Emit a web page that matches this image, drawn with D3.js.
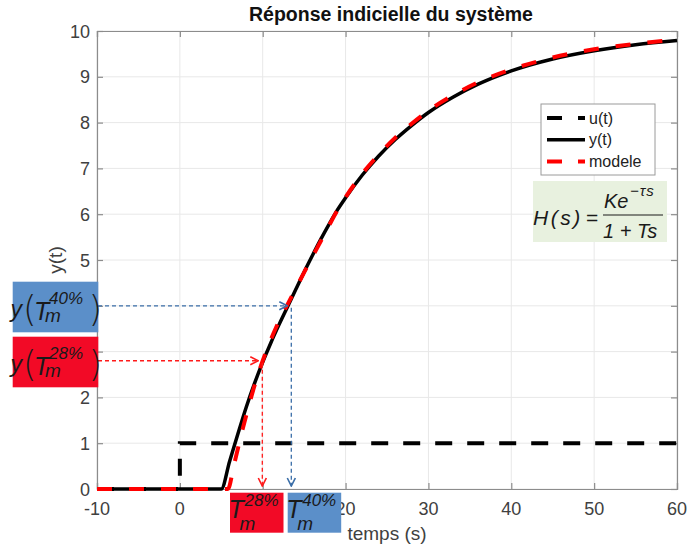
<!DOCTYPE html>
<html>
<head>
<meta charset="utf-8">
<script src="https://cdn.jsdelivr.net/npm/d3@7"></script>
<style>
body { margin: 0; background: #fff; }
text { font-family: "Liberation Sans", Arial, sans-serif; }
</style>
</head>
<body>
<svg id="chart" width="688" height="546"></svg>
<script>
"use strict"

// values
const timeY = [-10, 5, 6, 7, 8, 9, 10, 11, 12, 13, 14, 15, 16, 17, 18, 19, 20, 22, 24, 26, 28, 30, 33, 36, 40, 45, 50, 55, 60]
const valY  = [0, 0, 0.6, 1.2, 1.78, 2.3, 2.77, 3.2, 3.6, 3.98, 4.36, 4.74, 5.1, 5.45, 5.78, 6.09, 6.36, 6.85, 7.27, 7.63, 7.94, 8.22, 8.56, 8.84, 9.13, 9.39, 9.57, 9.7, 9.79]
const timeModel = [-10, 5.8, 6.5, 7, 7.5, 8, 9, 10, 11, 12, 13, 14, 15, 16, 17, 18, 19, 20, 22, 24, 26, 28, 30, 33, 36, 40, 45, 50, 55, 60]
const valModel  = [0, 0, 0.5, 0.88, 1.25, 1.6, 2.25, 2.8, 3.27, 3.68, 4.03, 4.38, 4.73, 5.07, 5.41, 5.75, 6.08, 6.37, 6.88, 7.3, 7.67, 7.98, 8.26, 8.6, 8.88, 9.16, 9.42, 9.6, 9.72, 9.81]
const timeU = [-10, 0, 0, 60]
const valU  = [0, 0, 1, 1]

const xTicks = [-10, 0, 10, 20, 30, 40, 50, 60]
const yTicks = [0, 1, 2, 3, 4, 5, 6, 7, 8, 9, 10]

const markPct = ["28%", "40%"]
const markT = [9.95, 13.45]
const markY = [2.8, 4.0]

const legendNames = ["u(t)", "y(t)", "modele"]

const redBox = "#f20a26", blueBox = "#5b8fc9"
const redArrow = "#ff1a1a", blueArrow = "#3a6ea8"

const svg = d3.select("#chart")
const x = d3.scaleLinear().domain([-10, 60]).range([97, 677])
const y = d3.scaleLinear().domain([0, 10]).range([489, 31])

svg.append("rect").attr("width", 688).attr("height", 546).attr("fill", "#fff")

// grid
const grid = svg.append("g")
grid.selectAll(".gx").data(xTicks).enter().append("line")
    .attr("x1", d => x(d)).attr("x2", d => x(d))
    .attr("y1", y(0)).attr("y2", y(10))
    .attr("stroke", "#e8e8e8").attr("stroke-width", 1)
grid.selectAll(".gy").data(yTicks).enter().append("line")
    .attr("x1", x(-10)).attr("x2", x(60))
    .attr("y1", d => y(d)).attr("y2", d => y(d))
    .attr("stroke", "#e8e8e8").attr("stroke-width", 1)

// frame + inward ticks
const axisColor = "#8c8c8c"
svg.append("g").attr("transform", "translate(0," + y(0) + ")")
    .call(d3.axisBottom(x).tickValues(xTicks).tickSize(-6).tickFormat(""))
svg.append("g").attr("transform", "translate(0," + y(10) + ")")
    .call(d3.axisTop(x).tickValues(xTicks).tickSize(-6).tickFormat(""))
svg.append("g").attr("transform", "translate(" + x(-10) + ",0)")
    .call(d3.axisLeft(y).tickValues(yTicks).tickSize(-6).tickFormat(""))
svg.append("g").attr("transform", "translate(" + x(60) + ",0)")
    .call(d3.axisRight(y).tickValues(yTicks).tickSize(-6).tickFormat(""))
svg.selectAll(".domain, .tick line").attr("stroke", axisColor).attr("stroke-width", 1.2)

// tick labels
svg.selectAll(".xl").data(xTicks).enter().append("text")
    .attr("x", d => x(d)).attr("y", 515)
    .attr("text-anchor", "middle")
    .style("font-size", "18px").attr("fill", "#404040")
    .text(d => d)
svg.selectAll(".yl").data(yTicks).enter().append("text")
    .attr("x", 90).attr("y", d => y(d) + 6.5)
    .attr("text-anchor", "end")
    .style("font-size", "18px").attr("fill", "#404040")
    .text(d => d)

svg.append("text").attr("x", 387).attr("y", 540)
    .attr("text-anchor", "middle").style("font-size", "19px").attr("fill", "#404040")
    .text("temps (s)")
svg.append("text").attr("transform", "translate(62,260) rotate(-90)")
    .attr("text-anchor", "middle").style("font-size", "19px").attr("fill", "#404040")
    .text("y(t)")
svg.append("text").attr("x", 391).attr("y", 21)
    .attr("text-anchor", "middle").style("font-size", "19.5px").style("font-weight", "bold")
    .attr("fill", "#111").text("Réponse indicielle du système")

// curves
const line = d3.line().x(d => x(d[0])).y(d => y(d[1]))
const smooth = d3.line().x(d => x(d[0])).y(d => y(d[1])).curve(d3.curveMonotoneX)

svg.append("path").datum(d3.zip(timeU, valU))
    .attr("d", line).attr("fill", "none")
    .attr("stroke", "#000").attr("stroke-width", 4).attr("stroke-dasharray", "17,15")
svg.append("path").datum(d3.zip(timeY, valY))
    .attr("d", smooth).attr("fill", "none")
    .attr("stroke", "#000").attr("stroke-width", 3.5)
svg.append("path").datum(d3.zip(timeModel, valModel))
    .attr("d", smooth).attr("fill", "none")
    .attr("stroke", "#ff0000").attr("stroke-width", 4).attr("stroke-dasharray", "15,17")

// legend
const leg = svg.append("g")
leg.append("rect").attr("x", 541).attr("y", 104).attr("width", 114).attr("height", 71)
    .attr("fill", "#fff").attr("stroke", "#9a9a9a").attr("stroke-width", 1)
const legStyle = [
    { color: "#000", dash: "15,16", w: 4 },
    { color: "#000", dash: null, w: 3.5 },
    { color: "#ff0000", dash: "15,16", w: 4 }
]
legendNames.forEach((name, i) => {
    const ly = 118 + i * 21.7
    leg.append("line").attr("x1", 547).attr("x2", 585).attr("y1", ly).attr("y2", ly)
        .attr("stroke", legStyle[i].color).attr("stroke-width", legStyle[i].w)
        .attr("stroke-dasharray", legStyle[i].dash)
    leg.append("text").attr("x", 589).attr("y", ly + 5.5)
        .style("font-size", "16px").attr("fill", "#222").text(name)
})

// transfer function box
const tf = svg.append("g").attr("fill", "#1a1a1a")
tf.append("rect").attr("x", 533).attr("y", 181).attr("width", 134).attr("height", 61).attr("fill", "#e8f1df")
tf.append("text").attr("x", 533).attr("y", 225).style("font-size", "21px").style("font-style", "italic")
    .style("letter-spacing", "2.5px").text("H(s)")
tf.append("text").attr("x", 586).attr("y", 225).style("font-size", "21px").text("=")
tf.append("text").attr("x", 604).attr("y", 208).style("font-size", "20px").style("font-style", "italic").text("Ke")
tf.append("text").attr("x", 630).attr("y", 196).style("font-size", "15px").style("font-style", "italic")
    .style("letter-spacing", "1px").text("−τs")
tf.append("line").attr("x1", 603).attr("x2", 663).attr("y1", 215).attr("y2", 215)
    .attr("stroke", "#1a1a1a").attr("stroke-width", 1.2)
tf.append("text").attr("x", 603).attr("y", 238).style("font-size", "20px").style("font-style", "italic").text("1 + Ts")

// arrow markers
const defs = svg.append("defs")
;[["arrRed", redArrow], ["arrBlue", blueArrow]].forEach(([id, c]) => {
    defs.append("marker").attr("id", id)
        .attr("viewBox", "0 0 10 10").attr("refX", 9).attr("refY", 5)
        .attr("markerWidth", 10).attr("markerHeight", 10)
        .attr("markerUnits", "userSpaceOnUse").attr("orient", "auto")
        .append("path").attr("d", "M1,1 L9,5 L1,9")
        .attr("fill", "none").attr("stroke", c).attr("stroke-width", 1.6)
})

const arrows = svg.append("g")
markT.forEach((t, i) => {
    const c = i === 0 ? redArrow : blueArrow
    const id = i === 0 ? "arrRed" : "arrBlue"
    arrows.append("line")
        .attr("x1", 98).attr("x2", x(t) - 4)
        .attr("y1", y(markY[i])).attr("y2", y(markY[i]))
        .attr("stroke", c).attr("stroke-width", 1.3).attr("stroke-dasharray", "4,3")
        .attr("marker-end", "url(#" + id + ")")
    arrows.append("line")
        .attr("x1", x(t)).attr("x2", x(t))
        .attr("y1", y(markY[i]) + 2).attr("y2", y(0) - 3)
        .attr("stroke", c).attr("stroke-width", 1.3).attr("stroke-dasharray", "4,3")
        .attr("marker-end", "url(#" + id + ")")
})

// T_m labels
function tmLabel(g, x0, base, pct, supDx, supDy, subDy) {
    g.append("text").attr("x", x0).attr("y", base)
        .style("font-size", "25px").style("font-style", "italic").text("T")
    g.append("text").attr("x", x0 + supDx).attr("y", base + supDy)
        .style("font-size", "17px").style("font-style", "italic").text(pct)
    g.append("text").attr("x", x0 + 11).attr("y", base + subDy)
        .style("font-size", "19px").style("font-style", "italic").text("m")
}

const boxes = svg.append("g").attr("fill", "#1a1a1a")
markPct.forEach((pct, i) => {
    const col = i === 0 ? redBox : blueBox
    // left y(T) boxes
    const by = i === 0 ? 336.7 : 281.7
    boxes.append("rect").attr("x", 12.7).attr("y", by).attr("width", 85.6).attr("height", 50.6).attr("fill", col)
    boxes.append("text").attr("x", 10.5).attr("y", by + 35)
        .style("font-size", "23px").style("font-style", "italic").text("y")
    boxes.append("text").attr("x", 23).attr("y", by + 39)
        .style("font-family", "'DejaVu Sans'").style("font-weight", 200)
        .style("font-size", "35px").text("(")
    boxes.append("text").attr("x", 88.5).attr("y", by + 39)
        .style("font-family", "'DejaVu Sans'").style("font-weight", 200)
        .style("font-size", "35px").text(")")
    tmLabel(boxes, 34, by + 38, pct, 15, -16, 2)

    // bottom T boxes
    const bx = i === 0 ? 230 : 287.7
    boxes.append("rect").attr("x", bx).attr("y", 492.7).attr("width", 53.5).attr("height", 40).attr("fill", col)
    tmLabel(boxes, bx - 1.5, 518, pct, 16, -12, 12)
})
</script>
</body>
</html>
